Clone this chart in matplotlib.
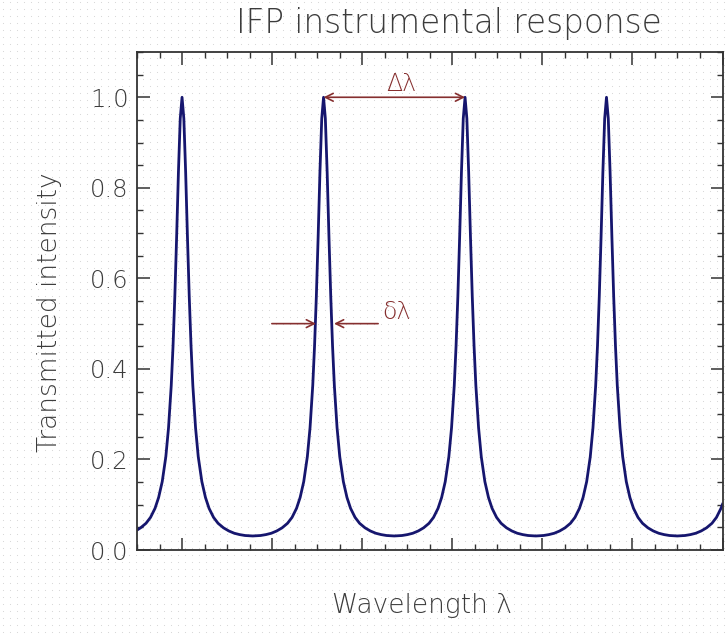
#!/usr/bin/env python3
"""IFP instrumental response: Airy-like transmission peaks of a Fabry-Perot."""

import numpy as np
import matplotlib
matplotlib.use('Agg')
import matplotlib.pyplot as plt
from matplotlib.ticker import MultipleLocator, NullFormatter, FormatStrFormatter

# --- data (wavelength in arbitrary units) ---
wavelength = [
    -0.500, -0.460, -0.400, -0.350, -0.300, -0.260, -0.220, -0.180, -0.150, -0.120,
    -0.100, -0.080, -0.060, -0.040, -0.020, 0.000,
    0.020, 0.040, 0.060, 0.080, 0.100, 0.120, 0.150, 0.180, 0.220, 0.260,
    0.300, 0.350, 0.400, 0.460, 0.520, 0.580, 0.640, 0.700, 0.785,
    0.871, 0.931, 0.991, 1.051, 1.111, 1.171, 1.221, 1.271, 1.311, 1.351,
    1.391, 1.421, 1.451, 1.471, 1.491, 1.511, 1.531, 1.551, 1.571,
    1.591, 1.611, 1.631, 1.651, 1.671, 1.691, 1.721, 1.751, 1.791, 1.831,
    1.871, 1.921, 1.971, 2.031, 2.091, 2.151, 2.211, 2.271, 2.356,
    2.442, 2.502, 2.562, 2.622, 2.682, 2.742, 2.792, 2.842, 2.882, 2.922,
    2.962, 2.992, 3.022, 3.042, 3.062, 3.082, 3.102, 3.122, 3.142,
    3.162, 3.182, 3.202, 3.222, 3.242, 3.262, 3.292, 3.322, 3.362, 3.402,
    3.442, 3.492, 3.542, 3.602, 3.662, 3.722, 3.782, 3.842, 3.927,
    4.012, 4.072, 4.132, 4.192, 4.252, 4.312, 4.362, 4.412, 4.452, 4.492,
    4.532, 4.562, 4.592, 4.612, 4.632, 4.652, 4.672, 4.692, 4.712,
    4.732, 4.752, 4.772, 4.792, 4.812, 4.832, 4.862, 4.892, 4.932, 4.972,
    5.012, 5.062, 5.112, 5.172, 5.232, 5.292, 5.352, 5.412, 5.498,
    5.583, 5.643, 5.703, 5.763, 5.823, 5.883, 5.933, 5.983, 6.000,
]
intensity = [
    0.044, 0.049, 0.059, 0.072, 0.092, 0.116, 0.151, 0.206, 0.270, 0.363,
    0.450, 0.560, 0.692, 0.835, 0.953, 1.000,
    0.953, 0.835, 0.692, 0.560, 0.450, 0.363, 0.270, 0.206, 0.151, 0.116,
    0.092, 0.072, 0.059, 0.049, 0.042, 0.037, 0.034, 0.032, 0.031,
    0.032, 0.034, 0.037, 0.042, 0.049, 0.059, 0.072, 0.092, 0.116, 0.151,
    0.206, 0.270, 0.363, 0.450, 0.560, 0.692, 0.835, 0.953, 1.000,
    0.953, 0.835, 0.692, 0.560, 0.450, 0.363, 0.270, 0.206, 0.151, 0.116,
    0.092, 0.072, 0.059, 0.049, 0.042, 0.037, 0.034, 0.032, 0.031,
    0.032, 0.034, 0.037, 0.042, 0.049, 0.059, 0.072, 0.092, 0.116, 0.151,
    0.206, 0.270, 0.363, 0.450, 0.560, 0.692, 0.835, 0.953, 1.000,
    0.953, 0.835, 0.692, 0.560, 0.450, 0.363, 0.270, 0.206, 0.151, 0.116,
    0.092, 0.072, 0.059, 0.049, 0.042, 0.037, 0.034, 0.032, 0.031,
    0.032, 0.034, 0.037, 0.042, 0.049, 0.059, 0.072, 0.092, 0.116, 0.151,
    0.206, 0.270, 0.363, 0.450, 0.560, 0.692, 0.835, 0.953, 1.000,
    0.953, 0.835, 0.692, 0.560, 0.450, 0.363, 0.270, 0.206, 0.151, 0.116,
    0.092, 0.072, 0.059, 0.049, 0.042, 0.037, 0.034, 0.032, 0.031,
    0.032, 0.034, 0.037, 0.042, 0.049, 0.059, 0.072, 0.092, 0.101,
]

# free spectral range (peak to peak) and FWHM markers
fsr_start, fsr_end, fsr_level = 1.571, 3.142, 1.0
fwhm_left, fwhm_right, fwhm_level = 1.487, 1.687, 0.5
fwhm_arrow_len = 0.49

TEXT = '#3c3c3c'
MAROON = '#862f2f'
NAVY = '#16166e'

fig = plt.figure(figsize=(7.28, 6.35), dpi=100)
fig.patch.set_facecolor('white')

# faint dotted screen background
bg = fig.add_axes([0, 0, 1, 1], zorder=-1)
gx, gy = np.meshgrid(np.arange(3, 728, 7), np.arange(3, 635, 7))
bg.scatter(gx.ravel(), gy.ravel(), s=0.6, color='#d4d4d4', lw=0)
bg.set_xlim(0, 728)
bg.set_ylim(0, 635)
bg.axis('off')

ax = fig.add_axes([137 / 728, 1 - 550 / 635, 585.5 / 728, 498 / 635])
ax.patch.set_alpha(0)
ax.plot(wavelength, intensity, color=NAVY, linewidth=2.0)

ax.set_xlim(-0.5, 6.0)
ax.set_ylim(0.0, 1.1)

ax.xaxis.set_major_locator(MultipleLocator(1.0))
ax.xaxis.set_minor_locator(MultipleLocator(0.25))
ax.xaxis.set_major_formatter(NullFormatter())
ax.yaxis.set_major_locator(MultipleLocator(0.2))
ax.yaxis.set_minor_locator(MultipleLocator(0.05))
ax.yaxis.set_major_formatter(FormatStrFormatter('%.1f'))

ax.tick_params(which='both', direction='in', top=True, right=True, color='#333333')
ax.tick_params(which='major', length=9, width=1.1, pad=6, labelsize=17.5, labelcolor=TEXT)
ax.tick_params(which='minor', length=4.5, width=1.0)
for lab in ax.get_yticklabels():
    lab.set_fontweight('light')
for sp in ax.spines.values():
    sp.set_color('#333333')
    sp.set_linewidth(1.3)

# annotations
ax.annotate('', xy=(fsr_start, fsr_level), xytext=(fsr_end, fsr_level),
            arrowprops=dict(arrowstyle='<->', color=MAROON, lw=1.2,
                            shrinkA=0, shrinkB=0, mutation_scale=14))
ax.text((fsr_start + fsr_end) / 2 + 0.08, fsr_level + 0.03, 'Δλ', color=MAROON,
        fontsize=17, ha='center', va='center', fontweight='light')

ax.annotate('', xy=(fwhm_left, fwhm_level), xytext=(fwhm_left - fwhm_arrow_len, fwhm_level),
            arrowprops=dict(arrowstyle='->', color=MAROON, lw=1.2,
                            shrinkA=0, shrinkB=0, mutation_scale=14))
ax.annotate('', xy=(fwhm_right, fwhm_level), xytext=(fwhm_right + fwhm_arrow_len, fwhm_level),
            arrowprops=dict(arrowstyle='->', color=MAROON, lw=1.2,
                            shrinkA=0, shrinkB=0, mutation_scale=14))
ax.text(fwhm_right + fwhm_arrow_len + 0.2, fwhm_level + 0.025, 'δλ', color=MAROON,
        fontsize=17, ha='center', va='center', fontweight='light')

fig.text(449 / 728, 1 - 23 / 635, 'IFP instrumental response', ha='center', va='center',
         fontsize=23.5, color=TEXT, fontweight='light')
fig.text(50 / 728, 1 - 312 / 635, 'Transmitted intensity', ha='center', va='center',
         rotation=90, fontsize=19, color=TEXT, fontweight='light')
fig.text(422 / 728, 1 - 605 / 635, 'Wavelength λ', ha='center', va='center',
         fontsize=19, color=TEXT, fontweight='light')

fig.savefig('out.png', dpi=100)
